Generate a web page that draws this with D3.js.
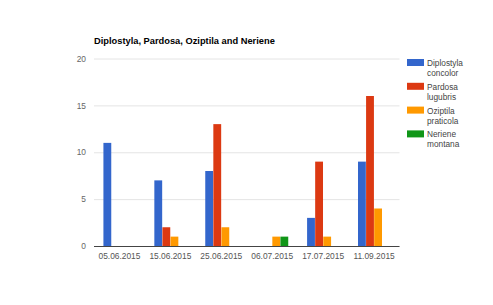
<!DOCTYPE html>
<html>
<head>
<meta charset="utf-8">
<script src="https://cdn.jsdelivr.net/npm/d3@7"></script>
<style>
  body { margin: 0; background: #fff; }
  svg { display: block; font-family: "Liberation Sans", Arial, sans-serif; }
</style>
</head>
<body>
<div id="chart"></div>
<script>
// data
const dates = ["05.06.2015", "15.06.2015", "25.06.2015", "06.07.2015", "17.07.2015", "11.09.2015"];
const seriesNames = ["Diplostyla concolor", "Pardosa lugubris", "Oziptila praticola", "Neriene montana"];
const diplostyla = [11, 7, 8, 0, 3, 9];
const pardosa = [0, 2, 13, 0, 9, 16];
const oziptila = [0, 1, 2, 1, 1, 4];
const neriene = [0, 0, 0, 1, 0, 0];
const yTicks = [0, 5, 10, 15, 20];
const colors = ["#3366cc", "#dc3912", "#ff9900", "#109618"];

const values = [diplostyla, pardosa, oziptila, neriene];
const rows = dates.map((d, i) => ({date: d, vals: values.map(s => s[i])}));

const width = 493, height = 305;
const marginLeft = 94, marginRight = 94, marginTop = 58.5, marginBottom = 59;

const svg = d3.select("#chart").append("svg")
    .attr("width", width)
    .attr("height", height);

const x0 = d3.scaleBand()
    .domain(dates)
    .range([marginLeft, width - marginRight + 0.5])
    .paddingInner(0.37)
    .paddingOuter(0.185);

const x1 = d3.scaleBand()
    .domain(d3.range(seriesNames.length))
    .range([0, x0.bandwidth()])
    .paddingInner(0.03);

const y = d3.scaleLinear()
    .domain([0, 20])
    .range([height - marginBottom, marginTop]);

// gridlines + y labels
const yAxis = d3.axisLeft(y).tickValues(yTicks).tickSize(0).tickPadding(8);
svg.append("g")
    .attr("transform", `translate(${marginLeft},0)`)
    .call(yAxis)
    .call(g => g.select(".domain").remove())
    .call(g => g.selectAll(".tick line").clone()
        .attr("x2", width - marginLeft - marginRight + 0.5)
        .attr("stroke", "#e4e4e4"))
    .call(g => g.selectAll(".tick text")
        .attr("fill", "#666")
        .style("font-family", "'Liberation Sans', Arial, sans-serif")
        .style("font-size", "8.4px"));

// bars
const groups = svg.append("g")
  .selectAll("g")
  .data(rows)
  .join("g")
    .attr("transform", d => `translate(${x0(d.date)},0)`);

groups.selectAll("rect")
  .data(d => d.vals.map((v, k) => ({k, v})).filter(e => e.v > 0))
  .join("rect")
    .attr("x", e => x1(e.k))
    .attr("y", e => y(e.v))
    .attr("width", x1.bandwidth())
    .attr("height", e => y(0) - y(e.v))
    .attr("fill", e => colors[e.k]);

// baseline
svg.append("line")
    .attr("x1", marginLeft)
    .attr("x2", width - marginRight + 0.5)
    .attr("y1", y(0) + 0.5)
    .attr("y2", y(0) + 0.5)
    .attr("stroke", "#444");

// x labels
const xAxis = d3.axisBottom(x0).tickSize(0).tickPadding(7);
svg.append("g")
    .attr("transform", `translate(0,${y(0)})`)
    .call(xAxis)
    .call(g => g.select(".domain").remove())
    .call(g => g.selectAll(".tick text")
        .attr("fill", "#555")
        .style("font-family", "'Liberation Sans', Arial, sans-serif")
        .style("font-size", "8.4px"));

// title
svg.append("text")
    .attr("x", marginLeft)
    .attr("y", 44)
    .attr("font-size", "9.3px")
    .attr("font-weight", "bold")
    .attr("fill", "#000")
    .text("Diplostyla, Pardosa, Oziptila and Neriene");

// legend
const legend = svg.append("g")
    .attr("transform", "translate(407,59)");

const item = legend.selectAll("g")
  .data(seriesNames)
  .join("g")
    .attr("transform", (d, i) => `translate(0,${i * 23.8})`);

item.append("rect")
    .attr("width", 17)
    .attr("height", 7)
    .attr("fill", (d, i) => colors[i]);

item.append("text")
    .attr("x", 20)
    .attr("y", 7)
    .attr("font-size", "8.3px")
    .attr("fill", "#444")
    .selectAll("tspan")
    .data(d => d.split(" "))
    .join("tspan")
      .attr("x", 20)
      .attr("dy", (d, j) => j === 0 ? 0 : 10)
      .text(d => d);
</script>
</body>
</html>
